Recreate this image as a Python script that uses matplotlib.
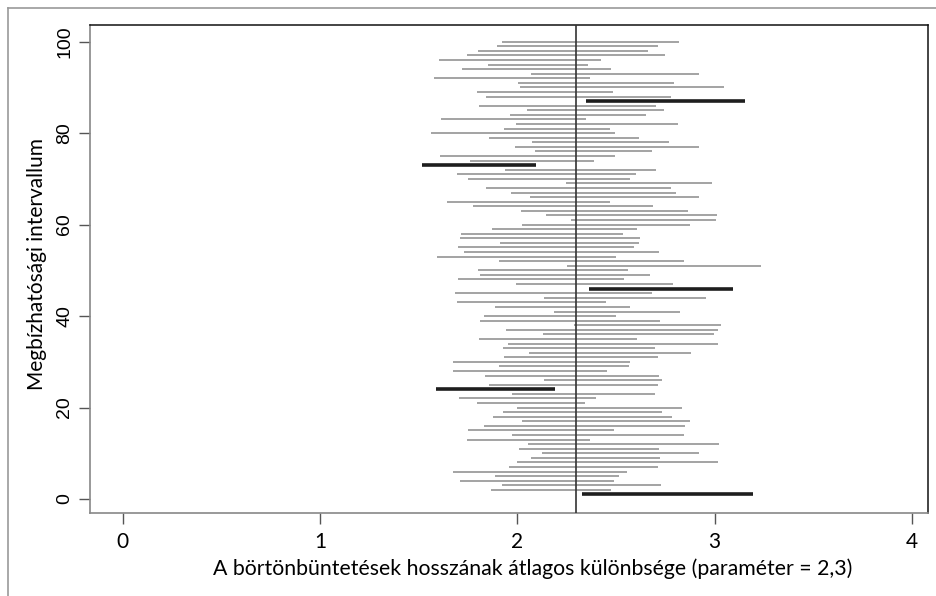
import matplotlib
matplotlib.use("Agg")
import matplotlib.pyplot as plt
from matplotlib.lines import Line2D

# Confidence intervals for the mean difference in sentence length, samples 1..100
lower = [
    2.326, 1.867, 1.921, 1.711, 1.885, 1.674, 1.956, 1.999, 2.071, 2.125,
    2.010, 2.053, 1.747, 1.975, 1.752, 1.831, 2.024, 1.879, 1.928, 2.000,
    1.794, 1.705, 1.975, 1.588, 1.855, 2.137, 1.838, 1.676, 1.909, 1.676,
    1.934, 2.059, 1.928, 1.951, 1.806, 2.132, 1.944, 2.287, 1.813, 1.831,
    2.184, 1.885, 1.693, 2.137, 1.686, 2.365, 1.992, 1.698, 1.813, 1.801,
    2.250, 1.909, 1.591, 1.728, 1.700, 1.914, 1.711, 1.716, 1.874, 2.024,
    2.274, 2.144, 2.017, 1.777, 1.645, 2.064, 1.968, 1.843, 2.245, 1.752,
    1.693, 1.939, 1.519, 1.759, 1.608, 2.088, 1.987, 2.076, 1.855, 1.561,
    1.934, 1.992, 1.615, 1.963, 2.048, 1.806, 2.347, 1.841, 1.794, 2.015,
    2.005, 1.578, 2.070, 1.721, 1.853, 1.602, 1.747, 1.799, 1.897, 1.921,
]
upper = [
    3.196, 2.477, 2.730, 2.489, 2.514, 2.554, 2.712, 3.017, 2.722, 2.921,
    2.717, 3.022, 2.369, 2.843, 2.489, 2.848, 2.874, 2.782, 2.735, 2.837,
    2.345, 2.399, 2.698, 2.191, 2.712, 2.735, 2.717, 2.453, 2.566, 2.573,
    2.712, 2.879, 2.698, 3.017, 2.608, 2.999, 3.017, 3.034, 2.722, 2.500,
    2.825, 2.573, 2.448, 2.955, 2.681, 3.095, 2.788, 2.543, 2.674, 2.561,
    3.234, 2.843, 2.500, 2.717, 2.592, 2.615, 2.620, 2.536, 2.608, 2.874,
    3.006, 3.011, 2.867, 2.686, 2.472, 2.921, 2.806, 2.777, 2.987, 2.573,
    2.603, 2.705, 2.093, 2.387, 2.495, 2.681, 2.921, 2.771, 2.615, 2.495,
    2.472, 2.813, 2.350, 2.651, 2.742, 2.705, 3.154, 2.777, 2.483, 3.046,
    2.794, 2.369, 2.921, 2.477, 2.357, 2.423, 2.747, 2.664, 2.712, 2.818,
]
parameter = 2.3
interval_ids = list(range(1, len(lower) + 1))
x_ticks = [0, 1, 2, 3, 4]
y_ticks = [0, 20, 40, 60, 80, 100]

W, H = 937, 596
fig = plt.figure(figsize=(W / 100, H / 100), dpi=100)
ax = fig.add_axes([90 / W, 1 - 513 / H, (928 - 90) / W, (513 - 25) / H])

for k, lo, hi in zip(interval_ids, lower, upper):
    misses = hi < parameter or lo > parameter
    if misses:
        ax.hlines(k, lo, hi, color="#1e1e1e", linewidth=2.6, zorder=3)
    else:
        ax.hlines(k, lo, hi, color="#a3a3a3", linewidth=1.4, zorder=2)

ax.axvline(parameter, color="#333333", linewidth=1.2, zorder=4)

ax.set_xlim(-0.166, 4.082)
ax.set_ylim(-3.06, 103.65)
ax.set_xticks(x_ticks)
ax.set_xticklabels([str(v) for v in x_ticks], fontfamily="Lato", fontsize=15)
ax.set_yticks(y_ticks)
ax.set_yticklabels([str(v) for v in y_ticks], fontfamily="Liberation Sans",
                   fontsize=14, rotation=90, va="center")
ax.tick_params(axis="x", length=8, width=1, color="#555555", pad=6)
ax.tick_params(axis="y", length=8, width=1, color="#555555", pad=4)

for side in ("left", "bottom"):
    ax.spines[side].set_color("#888888")
    ax.spines[side].set_linewidth(1.2)
for side in ("top", "right"):
    ax.spines[side].set_color("#111111")
    ax.spines[side].set_linewidth(1.1)

ax.set_xlabel("A börtönbüntetések hosszának átlagos különbsége (paraméter = 2,3)",
              fontfamily="Lato", fontsize=15.3)
ax.set_ylabel("Megbízhatósági intervallum", fontfamily="Lato", fontsize=15)
ax.xaxis.set_label_coords(0.528, -0.093)
ax.yaxis.set_label_coords(-0.051, 0.51)

# thin frame around the figure (top and left edges)
fig.add_artist(Line2D([8 / W, 1], [1 - 8 / H, 1 - 8 / H], transform=fig.transFigure,
                      color="#999999", linewidth=1.2))
fig.add_artist(Line2D([8 / W, 8 / W], [0, 1 - 8 / H], transform=fig.transFigure,
                      color="#999999", linewidth=1.2))

fig.savefig("out.png", dpi=100)
